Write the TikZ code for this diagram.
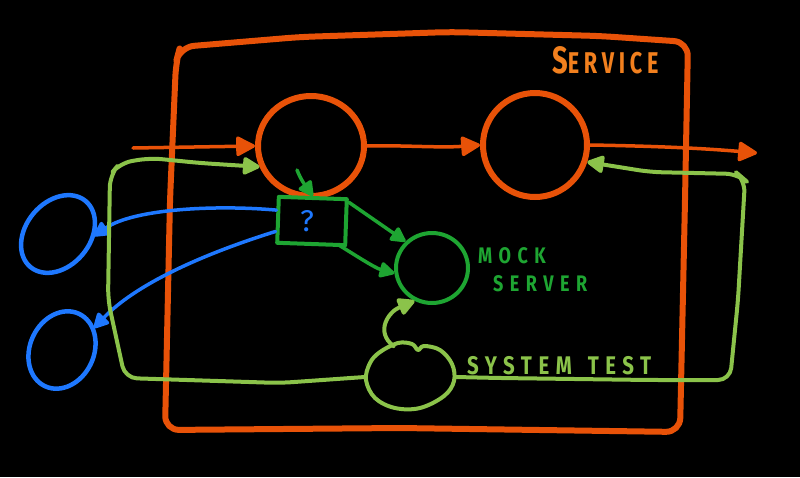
\documentclass[tikz,border=0pt]{standalone}
\usepackage{fontspec}
\usepackage{graphicx}
\setmainfont{Fira Sans}
\newfontfamily\handS[LetterSpace=22]{Fira Sans}
\newfontfamily\handM[LetterSpace=36]{Fira Sans}
\newfontfamily\handT[LetterSpace=32]{Fira Sans}
\usetikzlibrary{arrows.meta,shapes.geometric,calc}
\definecolor{orng}{RGB}{232,82,8}
\definecolor{orngtxt}{RGB}{242,128,30}
\definecolor{lgrn}{RGB}{139,195,74}
\definecolor{dgrn}{RGB}{30,165,50}
\definecolor{blu}{RGB}{30,120,255}
\tikzset{
  hd/.style={line cap=round, line join=round},
  orngline/.style={hd, draw=orng, line width=6pt},
  orngarr/.style={hd, draw=orng, line width=3.5pt, -{Triangle[length=21pt,width=21pt,round]}},
  lgrnline/.style={hd, draw=lgrn, line width=4pt},
  lgrnarr/.style={lgrnline, -{Triangle[length=19pt,width=19pt,round]}},
  dgrnline/.style={hd, draw=dgrn, line width=4pt},
  dgrnarr/.style={dgrnline, line width=3.5pt, -{Triangle[length=17pt,width=17pt,round]}},
  bluline/.style={hd, draw=blu, line width=4.5pt},
  bluarr/.style={bluline, line width=3.5pt, -{Triangle[length=17pt,width=17pt,round]}},
  oval/.style={ellipse, inner sep=0pt},
  lbl/.style={inner sep=0pt},
}
\begin{document}
\begin{tikzpicture}[x=1pt,y=-1pt]
\fill[black] (0,0) rectangle (800,477);
\useasboundingbox (0,0) rectangle (800,477);

% service frame
\draw[orngline, rounded corners=14] (176,62) -- (180,47) -- (300,37) -- (450,32) -- (600,36) -- (688,42) -- (685,200) -- (680,432) -- (400,428) -- (165,430) -- (170,200) -- cycle;
\node[lbl, text=orngtxt, anchor=base west] (svc) at (552,73) {\scalebox{0.72}[1]{\handS\bfseries\fontsize{30}{30}\selectfont{\fontsize{38}{38}\selectfont S}ERVICE}};

% orange circles
\node[oval, orngline, minimum width=106pt, minimum height=100pt] (c1) at (311,146) {};
\node[oval, orngline, minimum width=104pt, minimum height=104pt] (c2) at (535,145) {};
\coordinate (in) at (133,148);
\coordinate (out) at (757,153);
\draw[orngarr] (in) -- (c1.west);
\draw[orngarr] (c1.east) .. controls (400,145) and (440,148) .. (c2.west);
\draw[orngarr] (c2.east) .. controls (650,146) and (700,148) .. (out);

% mock server
\node[oval, dgrnline, minimum width=72pt, minimum height=70pt] (ms) at (432,268) {};
\node[lbl, text=dgrn, anchor=base west] (mock) at (478,263) {\scalebox{0.8}[1]{\handM\bfseries\fontsize{22.5}{22.5}\selectfont MOCK}};
\node[lbl, text=dgrn, anchor=base west] (server) at (493,291) {\scalebox{0.8}[1]{\handM\bfseries\fontsize{22.5}{22.5}\selectfont SERVER}};

% box with question mark
\node[dgrnline, minimum width=68pt, minimum height=46pt, inner sep=0pt, rotate=-2] (bx) at (312,221) {};
\node[text=blu, font=\fontsize{30}{30}\selectfont, inner sep=0pt] (q) at (307,221) {?};
\coordinate (c1in) at ($(c1.center)+(-14,24)$);
\draw[dgrnarr] (c1in) .. controls (301,180) and (305,185) .. (bx.north);
\coordinate (bx1) at ($(bx.north east)+(0,5)$);
\coordinate (bx2) at ($(bx.south east)+(-8,-2)$);
\draw[dgrnarr] (bx1) -- (ms.135);
\draw[dgrnarr] (bx2) .. controls (355,255) and (375,268) .. (ms.188);

% blue circles
\node[oval, bluline, minimum width=86pt, minimum height=64pt, rotate=50] (b1) at (58,234) {};
\node[oval, bluline, minimum width=80pt, minimum height=64pt, rotate=65] (b2) at (62,350) {};
\coordinate (b1t) at (94,236);
\coordinate (b2t) at (94,328);
\draw[bluarr] (bx.165) .. controls (220,205) and (135,208) .. (b1t);
\draw[bluarr] (bx.198) .. controls (200,255) and (135,285) .. (b2t);

% system test
\node[oval, minimum width=90pt, minimum height=66pt] (st) at (410,377) {};
\draw[lgrnline] plot[smooth cycle, tension=0.6] coordinates {(380,352) (398,343) (412,344) (418,350) (424,346) (440,350) (452,364) (454,381) (444,396) (420,408) (395,408) (375,398) (366,380) (370,363)};
\node[lbl, text=lgrn, anchor=base west] (stl) at (467,374) {\scalebox{0.8}[1]{\handT\bfseries\fontsize{25.5}{25.5}\selectfont SYSTEM\hspace{20pt}TEST}};
\coordinate (lA) at (125,378);
\coordinate (lB) at (110,175);
\coordinate (rA) at (730,380);
\coordinate (rB) at (745,180);
\draw[lgrnarr, rounded corners=12] (st.west) -- (280,383) -- (lA) -- (108,300) -- (lB) -- (120,163) -- (150,158) -- (200,163) -- (c1.202);
\draw[lgrnarr, rounded corners=12] (st.east) -- (500,378) -- (650,380) -- (rA) -- (738,300) -- (rB) -- (738,174) -- (650,172) -- (c2.-18);
\draw[lgrnarr] (st.118) .. controls (375,332) and (388,312) .. (ms.-118);
\end{tikzpicture}
\end{document}
